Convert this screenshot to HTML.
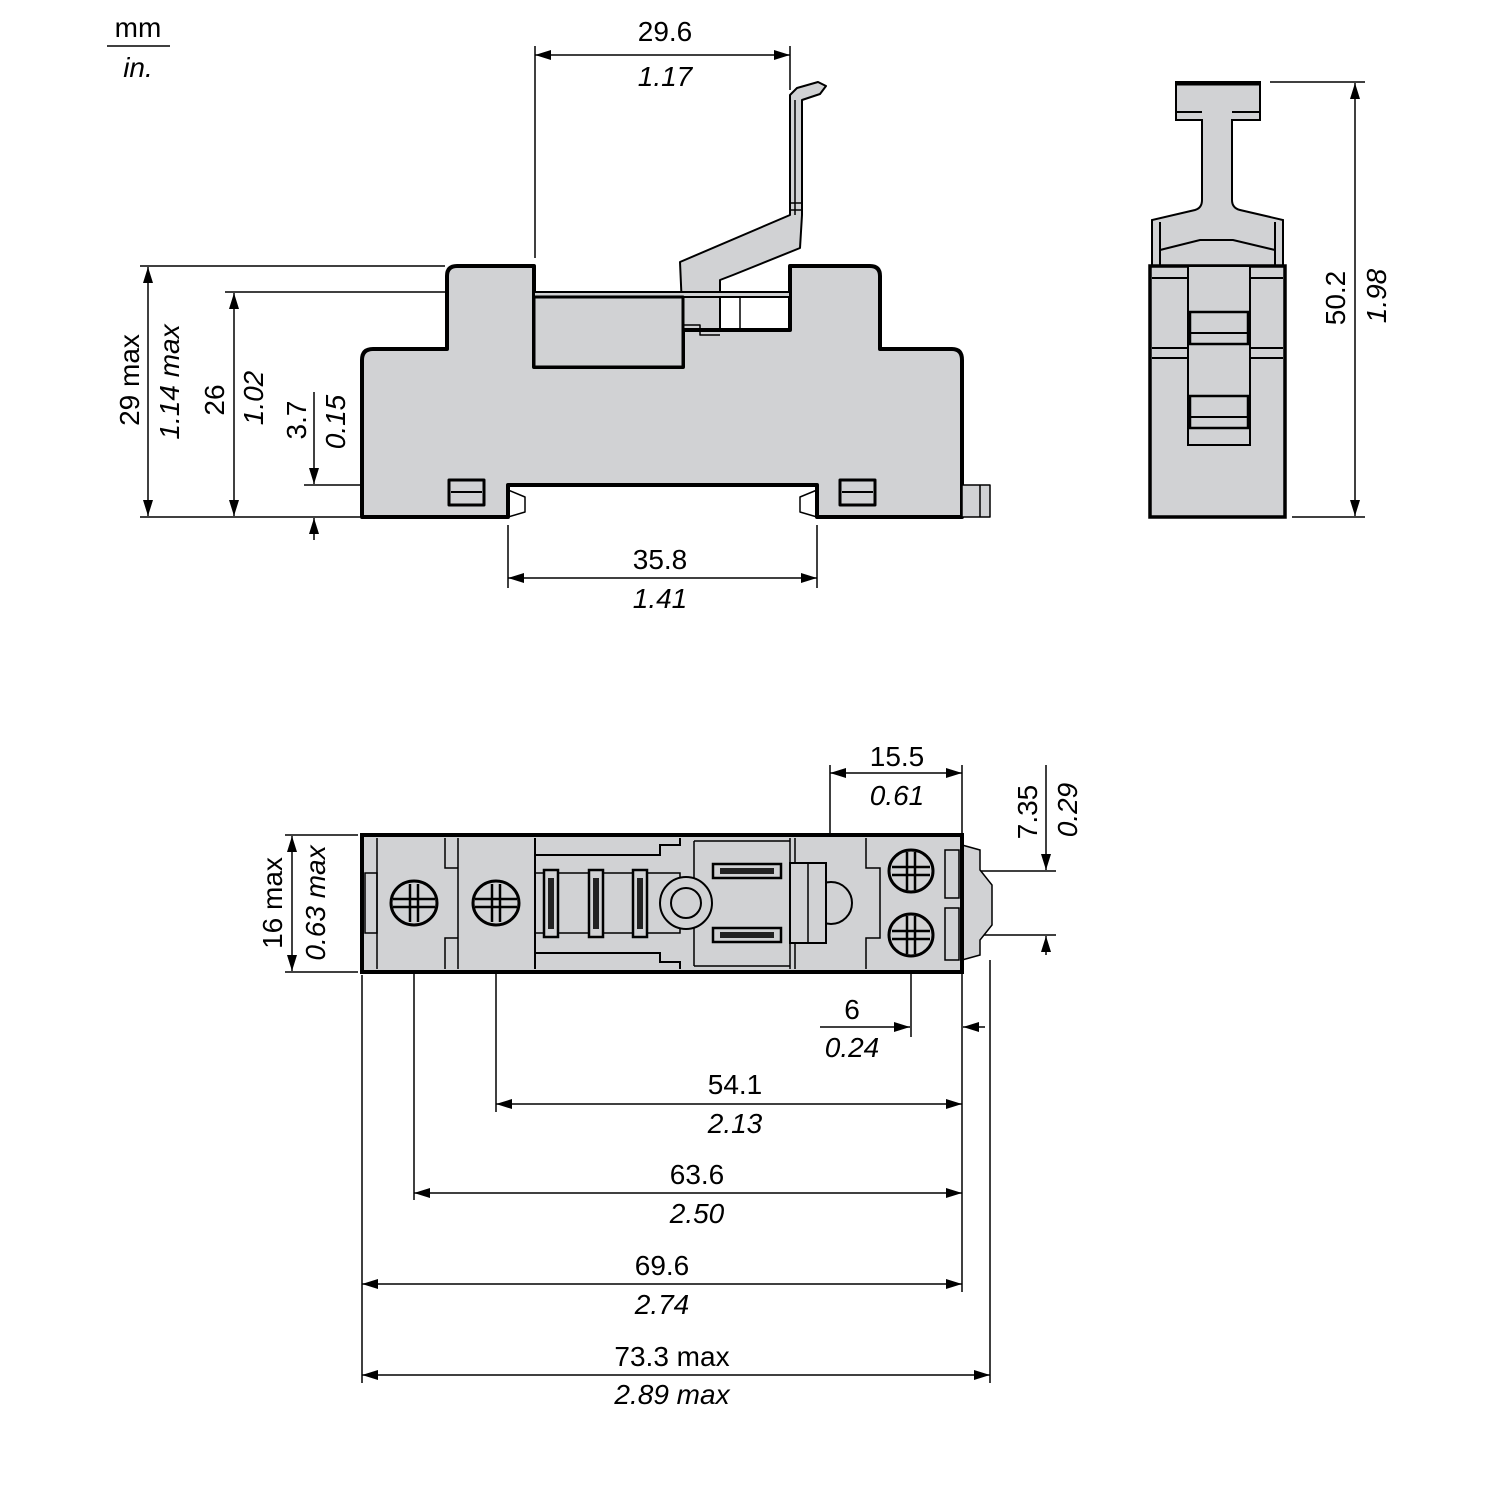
<!DOCTYPE html>
<html><head><meta charset="utf-8"><style>
html,body{margin:0;padding:0;background:#fff}
svg{display:block}
text{font-family:"Liberation Sans",Arial,sans-serif;font-size:28px;fill:#000}
.i{font-style:italic}
</style></head><body>
<svg width="1500" height="1500" viewBox="0 0 1500 1500" xmlns="http://www.w3.org/2000/svg">
<defs>
<marker id="a" viewBox="0 0 16 10" refX="16" refY="5" markerWidth="16" markerHeight="10" markerUnits="userSpaceOnUse" orient="auto-start-reverse"><path d="M0,0 L16,5 L0,10 Z" fill="#000"/></marker>
</defs>
<g stroke="#000" stroke-width="1.5" fill="none">
<line x1="107" y1="46" x2="170" y2="46"/>
<line x1="535" y1="46" x2="535" y2="258"/>
<line x1="790" y1="46" x2="790" y2="90"/>
<line x1="535" y1="55" x2="790" y2="55" marker-start="url(#a)" marker-end="url(#a)"/>
<line x1="140" y1="266" x2="445" y2="266"/>
<line x1="225" y1="292" x2="527" y2="292"/>
<line x1="140" y1="517" x2="360" y2="517"/>
<line x1="304" y1="485" x2="500" y2="485"/>
<line x1="148" y1="267" x2="148" y2="516" marker-start="url(#a)" marker-end="url(#a)"/>
<line x1="234" y1="293" x2="234" y2="516" marker-start="url(#a)" marker-end="url(#a)"/>
<line x1="314" y1="392" x2="314" y2="484" marker-end="url(#a)"/>
<line x1="314" y1="540" x2="314" y2="518" marker-end="url(#a)"/>
<line x1="508" y1="525" x2="508" y2="588"/>
<line x1="817" y1="525" x2="817" y2="588"/>
<line x1="508" y1="578" x2="817" y2="578" marker-start="url(#a)" marker-end="url(#a)"/>
<line x1="1270" y1="82" x2="1365" y2="82"/>
<line x1="1292" y1="517" x2="1365" y2="517"/>
<line x1="1355" y1="83" x2="1355" y2="516" marker-start="url(#a)" marker-end="url(#a)"/>
<line x1="285" y1="835" x2="358" y2="835"/>
<line x1="285" y1="972" x2="358" y2="972"/>
<line x1="292" y1="836" x2="292" y2="971" marker-start="url(#a)" marker-end="url(#a)"/>
<line x1="830" y1="765" x2="830" y2="900"/>
<line x1="962" y1="765" x2="962" y2="1292"/>
<line x1="830" y1="773" x2="962" y2="773" marker-start="url(#a)" marker-end="url(#a)"/>
<line x1="915" y1="871" x2="1056" y2="871"/>
<line x1="915" y1="935" x2="1056" y2="935"/>
<line x1="1046" y1="765" x2="1046" y2="870" marker-end="url(#a)"/>
<line x1="1046" y1="955" x2="1046" y2="936" marker-end="url(#a)"/>
<line x1="911" y1="940" x2="911" y2="1037"/>
<line x1="820" y1="1027" x2="910" y2="1027" marker-end="url(#a)"/>
<line x1="985" y1="1027" x2="963" y2="1027" marker-end="url(#a)"/>
<line x1="496" y1="905" x2="496" y2="1112"/>
<line x1="496" y1="1104" x2="962" y2="1104" marker-start="url(#a)" marker-end="url(#a)"/>
<line x1="414" y1="905" x2="414" y2="1200"/>
<line x1="414" y1="1193" x2="962" y2="1193" marker-start="url(#a)" marker-end="url(#a)"/>
<line x1="362" y1="975" x2="362" y2="1383"/>
<line x1="990" y1="960" x2="990" y2="1383"/>
<line x1="362" y1="1284" x2="962" y2="1284" marker-start="url(#a)" marker-end="url(#a)"/>
<line x1="362" y1="1375" x2="990" y2="1375" marker-start="url(#a)" marker-end="url(#a)"/>
</g>

<g stroke="#000" fill="#d1d2d4" stroke-linejoin="round">
<path d="M790,95 L797,88 L818,82 L826,86 L820,94 L802,100 L802,215 L800,248 L733,275 L720,280 L720,330 L683,330 L680,262 L790,215 Z" stroke-width="2"/>
<line x1="790" y1="203" x2="802" y2="203" stroke-width="1.5"/>
<line x1="790" y1="210" x2="802" y2="210" stroke-width="1.5"/>
<line x1="795" y1="100" x2="795" y2="215" stroke-width="1.5"/>
<path d="M362,360 Q362,349 373,349 L447,349 L447,276 Q447,266 457,266 L534,266 L534,367 L683,367 L683,330 L790,330 L790,266 L870,266 Q880,266 880,276 L880,349 L952,349 Q962,349 962,360 L962,517 L817,517 L817,485 L508,485 L508,517 L362,517 Z" stroke-width="4"/>
<rect x="534" y="292" width="256" height="5" stroke-width="2"/>
<path d="M534,297 L683,297 L683,367 L534,367 Z" stroke-width="3" fill="#d1d2d4"/>
<path d="M683,297 L683,330 M683,325 L700,325 L700,335 L720,335" stroke-width="1.5" fill="none"/>
<line x1="740" y1="297" x2="740" y2="330" stroke-width="1.5"/>
<rect x="449" y="480" width="35" height="25" stroke-width="3"/>
<line x1="451" y1="492" x2="482" y2="492" stroke-width="2"/>
<rect x="840" y="480" width="35" height="25" stroke-width="3"/>
<line x1="842" y1="492" x2="873" y2="492" stroke-width="2"/>
<path d="M508,490 L525,497 L525,512 L508,517" fill="none" stroke-width="1.5"/>
<path d="M817,490 L800,497 L800,512 L817,517" fill="none" stroke-width="1.5"/>
<rect x="962" y="485" width="28" height="32" stroke-width="1.5"/>
<line x1="980" y1="485" x2="980" y2="517" stroke-width="1.5"/>
</g>

<g stroke="#000" fill="#d1d2d4" stroke-width="2">
<path d="M1176,82 L1260,82 L1260,120 L1232,120 L1232,200 Q1232,208 1240,210 L1283,220 L1283,266 L1152,266 L1152,220 L1195,210 Q1202,208 1202,200 L1202,120 L1176,120 Z"/>
<line x1="1176" y1="84" x2="1260" y2="84" stroke-width="3"/>
<line x1="1176" y1="112" x2="1202" y2="112"/><line x1="1232" y1="112" x2="1260" y2="112"/>
<path d="M1160,250 L1200,240 L1233,240 L1275,250" fill="none"/>
<line x1="1160" y1="222" x2="1160" y2="266"/><line x1="1275" y1="222" x2="1275" y2="266"/>
<rect x="1150" y="266" width="135" height="251" stroke-width="3.5"/>
<line x1="1152" y1="278" x2="1283" y2="278"/>
<line x1="1152" y1="348" x2="1283" y2="348"/>
<line x1="1152" y1="358" x2="1283" y2="358"/>
<rect x="1188" y="266" width="62" height="179"/>
<rect x="1190" y="312" width="58" height="32" stroke-width="2.5"/>
<line x1="1190" y1="333" x2="1248" y2="333"/>
<rect x="1190" y="396" width="58" height="32" stroke-width="2.5"/>
<line x1="1190" y1="417" x2="1248" y2="417"/>
</g>

<g stroke="#000" fill="#d1d2d4" stroke-width="2">
<path d="M962,845 L980,850 L980,870 L992,885 L992,925 L980,940 L980,955 L962,960 Z" stroke-width="1.5"/>
<rect x="362" y="835" width="600" height="137" stroke-width="4"/>
<rect x="365" y="873" width="12" height="60" stroke-width="1.5"/>
<path d="M377,838 L377,969 M445,838 L445,868 L458,868 L458,938 L445,938 L445,969 M458,838 L458,868 M458,938 L458,969" fill="none" stroke-width="1.5"/>
<path d="M535,838 L535,969 M535,855 L660,855 L660,845 L680,845 L680,838 M535,953 L660,953 L660,962 L680,962 L680,969" fill="none" stroke-width="2"/>
<path d="M535,873 L680,873 L680,878 L694,878 L694,928 L680,928 L680,933 L535,933" fill="none" stroke-width="1.5"/>
<line x1="694" y1="841" x2="790" y2="841" stroke-width="1.5"/>
<line x1="694" y1="966" x2="790" y2="966" stroke-width="1.5"/>
<line x1="694" y1="841" x2="694" y2="966" stroke-width="1.5"/>
<rect x="544" y="870" width="14" height="67" stroke-width="2.5"/><rect x="548" y="878" width="6" height="51" fill="#222" stroke="none"/>
<rect x="589" y="870" width="14" height="67" stroke-width="2.5"/><rect x="593" y="878" width="6" height="51" fill="#222" stroke="none"/>
<rect x="633" y="870" width="14" height="67" stroke-width="2.5"/><rect x="637" y="878" width="6" height="51" fill="#222" stroke="none"/>
<rect x="713" y="864" width="68" height="14" stroke-width="2.5"/><rect x="720" y="868" width="54" height="6" fill="#222" stroke="none"/>
<rect x="713" y="928" width="68" height="14" stroke-width="2.5"/><rect x="720" y="932" width="54" height="6" fill="#222" stroke="none"/>
<circle cx="686" cy="903" r="26"/>
<circle cx="686" cy="903" r="15"/>
<path d="M790,838 L790,969 M795,838 L795,969" fill="none" stroke-width="1.5"/>
<circle cx="831" cy="903" r="21"/>
<rect x="790" y="863" width="36" height="80" stroke-width="2"/>
<line x1="808" y1="863" x2="808" y2="943" stroke-width="1.5"/>
<path d="M866,838 L866,868 L880,868 L880,938 L866,938 L866,969" fill="none" stroke-width="1.5"/>
<rect x="945" y="850" width="14" height="48" stroke-width="1.5"/>
<rect x="945" y="908" width="14" height="52" stroke-width="1.5"/>
<g stroke-width="3">
<ellipse cx="414" cy="903" rx="23" ry="22"/>
<ellipse cx="496" cy="903" rx="23" ry="22"/>
<ellipse cx="911" cy="871" rx="22" ry="21"/>
<ellipse cx="911" cy="935" rx="22" ry="21"/>
</g>
<g stroke-width="2.5" fill="none">
<path d="M393,899 L435,899 M393,907 L435,907 M410,884 L410,922 M418,884 L418,922"/>
<path d="M475,899 L517,899 M475,907 L517,907 M492,884 L492,922 M500,884 L500,922"/>
<path d="M892,867 L930,867 M892,875 L930,875 M907,852 L907,890 M915,852 L915,890"/>
<path d="M892,931 L930,931 M892,939 L930,939 M907,916 L907,954 M915,916 L915,954"/>
</g>
</g>

<text x="138" y="37" text-anchor="middle">mm</text>
<text x="138" y="77" text-anchor="middle" class="i">in.</text>
<text x="665" y="41" text-anchor="middle">29.6</text>
<text x="665" y="86" text-anchor="middle" class="i">1.17</text>
<text transform="translate(139,380) rotate(-90)" text-anchor="middle">29 max</text>
<text transform="translate(179,382) rotate(-90)" text-anchor="middle" class="i">1.14 max</text>
<text transform="translate(224,400) rotate(-90)" text-anchor="middle">26</text>
<text transform="translate(263,398) rotate(-90)" text-anchor="middle" class="i">1.02</text>
<text transform="translate(306,420) rotate(-90)" text-anchor="middle">3.7</text>
<text transform="translate(345,422) rotate(-90)" text-anchor="middle" class="i">0.15</text>
<text x="660" y="569" text-anchor="middle">35.8</text>
<text x="660" y="608" text-anchor="middle" class="i">1.41</text>
<text transform="translate(1345,298) rotate(-90)" text-anchor="middle">50.2</text>
<text transform="translate(1386,296) rotate(-90)" text-anchor="middle" class="i">1.98</text>
<text transform="translate(282,903) rotate(-90)" text-anchor="middle">16 max</text>
<text transform="translate(325,903) rotate(-90)" text-anchor="middle" class="i">0.63 max</text>
<text x="897" y="766" text-anchor="middle">15.5</text>
<text x="897" y="805" text-anchor="middle" class="i">0.61</text>
<text transform="translate(1037,812) rotate(-90)" text-anchor="middle">7.35</text>
<text transform="translate(1077,810) rotate(-90)" text-anchor="middle" class="i">0.29</text>
<text x="852" y="1019" text-anchor="middle">6</text>
<text x="852" y="1057" text-anchor="middle" class="i">0.24</text>
<text x="735" y="1094" text-anchor="middle">54.1</text>
<text x="735" y="1133" text-anchor="middle" class="i">2.13</text>
<text x="697" y="1184" text-anchor="middle">63.6</text>
<text x="697" y="1223" text-anchor="middle" class="i">2.50</text>
<text x="662" y="1275" text-anchor="middle">69.6</text>
<text x="662" y="1314" text-anchor="middle" class="i">2.74</text>
<text x="672" y="1366" text-anchor="middle">73.3 max</text>
<text x="672" y="1404" text-anchor="middle" class="i">2.89 max</text>
</svg>
</body></html>
